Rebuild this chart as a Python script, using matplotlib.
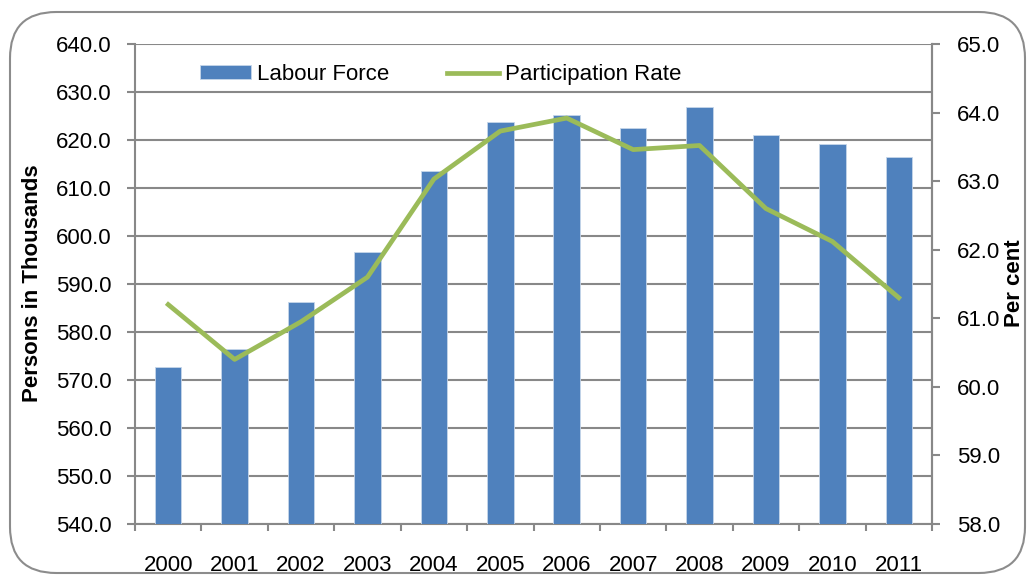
import matplotlib
matplotlib.use("Agg")
import matplotlib.pyplot as plt
from matplotlib.patches import FancyBboxPatch
import numpy as np

years = ["2000", "2001", "2002", "2003", "2004", "2005", "2006", "2007", "2008", "2009", "2010", "2011"]
labour_force = [572.8, 576.4, 586.2, 596.6, 613.6, 623.7, 625.3, 622.6, 626.8, 621.0, 619.1, 616.5]
participation_rate = [61.2, 60.4, 60.95, 61.6, 63.03, 63.73, 63.92, 63.46, 63.52, 62.6, 62.12, 61.3]
left_ticks = [540, 550, 560, 570, 580, 590, 600, 610, 620, 630, 640]
right_ticks = [58, 59, 60, 61, 62, 63, 64, 65]

plt.rcParams['font.family'] = ['Liberation Sans', 'DejaVu Sans']
W, H = 1027, 575
FS = 16
fig = plt.figure(figsize=(W / 100, H / 100), dpi=100)

# rounded border
border = FancyBboxPatch((10 / W, 2 / H), (W - 12) / W, (H - 14) / H,
                        boxstyle="round,pad=0,rounding_size=0.045",
                        transform=fig.transFigure, fill=False,
                        edgecolor="#8c8c8c", linewidth=1.5, mutation_aspect=W / H)
fig.patches.append(border)

ax = fig.add_axes([135 / W, 1 - 524 / H, (932 - 135) / W, (524 - 44) / H])
x = np.arange(len(years))
gc = "#888888"
ax.bar(x, labour_force, width=0.4, color="#4F81BD", edgecolor="#c6d6ea", linewidth=0.6,
       label="Labour Force", zorder=3)
ax.set_ylim(540, 640)
ax.set_xlim(-0.5, len(years) - 0.5)
ax.set_yticks(left_ticks)
ax.set_yticklabels([f"{v:.1f}" for v in left_ticks])
ax.yaxis.grid(True, color=gc, linewidth=1.5, zorder=0)
ax.set_axisbelow(True)
ax.set_xticks(x)
ax.set_xticklabels(years)
ax.set_xticks(np.arange(-0.5, len(years)), minor=True)
ax.tick_params(axis='x', which='major', length=0, pad=22, labelsize=FS)
ax.tick_params(axis='x', which='minor', length=5, width=1.5, color=gc, direction='out')
ax.tick_params(axis='y', length=6, width=1.5, color=gc, direction='out', labelsize=FS, pad=11)
ax.spines['top'].set_visible(False)
for s in ['left', 'bottom', 'right']:
    ax.spines[s].set_color(gc)
    ax.spines[s].set_linewidth(1.5)

ax2 = ax.twinx()
ax2.plot(x, participation_rate, color="#9BBB59", linewidth=3.4, label="Participation Rate",
         zorder=4)
ax2.set_ylim(58, 65)
ax2.set_yticks(right_ticks)
ax2.set_yticklabels([f"{v:.1f}" for v in right_ticks])
ax2.tick_params(axis='y', length=6, width=1.5, color=gc, direction='out', labelsize=FS, pad=12)
for s in ['top', 'left', 'bottom']:
    ax2.spines[s].set_visible(False)
ax2.spines['right'].set_color(gc)
ax2.spines['right'].set_linewidth(1.5)

fig.text(33 / W, 1 - 283 / H, "Persons in Thousands", rotation=90, ha='center', va='center',
         fontsize=FS, fontweight='bold')
fig.text(1014 / W, 1 - 283 / H, "Per cent", rotation=90, ha='center', va='center',
         fontsize=FS, fontweight='bold')

h1, l1 = ax.get_legend_handles_labels()
h2, l2 = ax2.get_legend_handles_labels()
leg = ax2.legend(h1 + h2, l1 + l2, loc='upper left', bbox_to_anchor=(0.056, 1.0), ncol=2,
                 frameon=False, fontsize=FS, handlelength=2.3, handleheight=0.55,
                 columnspacing=2.6, handletextpad=0.3)

fig.savefig("out.png", dpi=100)
